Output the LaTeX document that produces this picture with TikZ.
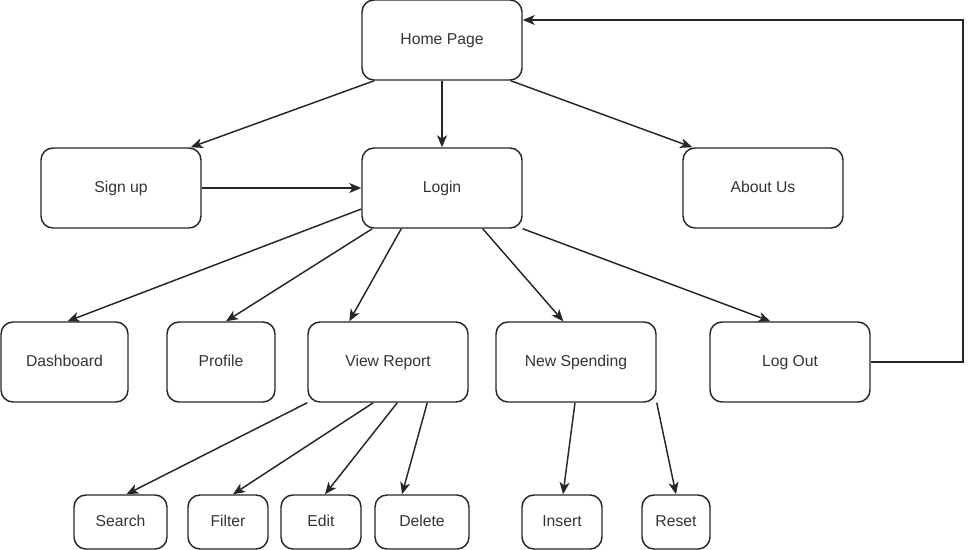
\documentclass[tikz,border=0pt]{standalone}
\usepackage{fontspec}
\setmainfont{Liberation Sans}
\usetikzlibrary{arrows.meta,calc}
\begin{document}
\begin{tikzpicture}[x=0.75pt,y=-0.75pt,
  box/.style={draw=black!85, line width=1.1pt, rounded corners=9pt, align=center,
    font=\fontsize{11.8pt}{13pt}\selectfont, text=black!80, inner sep=0pt,
    text height=8.5pt, text depth=2.5pt},
  big/.style={box, minimum width=120pt, minimum height=60pt},
  small/.style={box, minimum height=40.5pt},
  arr/.style={draw=black!85, line width=1.1pt, -{Stealth[length=9pt,width=7.5pt,inset=2.5pt]}}]
\useasboundingbox (0,0) rectangle (975,550);
\node[big] (home) at (442,40) {Home Page};
\node[big] (signup) at (121,188) {Sign up};
\node[big] (login) at (442,188) {Login};
\node[big] (about) at (763,188) {About Us};
\node[big, minimum width=95.25pt] (dash) at (64.5,362) {Dashboard};
\node[big, minimum width=81pt] (profile) at (221,362) {Profile};
\node[big] (view) at (388,362) {View Report};
\node[big] (newsp) at (576,362) {New Spending};
\node[big] (logout) at (790,362) {Log Out};
\node[small, minimum width=69.75pt] (search) at (120.5,522) {Search};
\node[small, minimum width=60pt] (filter) at (228,522) {Filter};
\node[small, minimum width=60pt] (edit) at (321,522) {Edit};
\node[small, minimum width=70.5pt] (delete) at (422,522) {Delete};
\node[small, minimum width=60pt] (insert) at (562,522) {Insert};
\node[small, minimum width=51pt] (reset) at (676,522) {Reset};
\coordinate (c1) at (963,362);
\coordinate (c2) at (963,20);

\draw[arr] ($(home.south west)+(13,0)$) -- ($(signup.north east)+(-11,0)$);
\draw[arr] (home.south) -- (login.north);
\draw[arr] ($(home.south east)+(-12,0)$) -- ($(about.north west)+(10,0)$);
\draw[arr] (signup.east) -- (login.west);
\draw[arr] ($(login.west)+(0,21)$) -- ($(dash.north)+(3,0)$);
\draw[arr] ($(login.south west)+(11,0)$) -- ($(profile.north)+(5,0)$);
\draw[arr] ($(login.south west)+(40,0)$) -- ($(view.north west)+(42,0)$);
\draw[arr] ($(login.south east)+(-40,0)$) -- ($(newsp.north west)+(68,0)$);
\draw[arr] (login.south east) -- ($(logout.north west)+(61,0)$);
\draw[arr] (logout.east) -- (c1) -- (c2) -- ($(home.east)+(0,-20)$);
\draw[arr] (view.south west) -- ($(search.north)+(6,0)$);
\draw[arr] ($(view.south west)+(66,0)$) -- ($(filter.north)+(5,0)$);
\draw[arr] ($(view.south west)+(90,0)$) -- ($(edit.north)+(4,0)$);
\draw[arr] ($(view.south west)+(120,0)$) -- ($(delete.north)+(-20,0)$);
\draw[arr] ($(newsp.south)+(-1,0)$) -- ($(insert.north)+(1,0)$);
\draw[arr] (newsp.south east) -- (reset.north);
\end{tikzpicture}
\end{document}
